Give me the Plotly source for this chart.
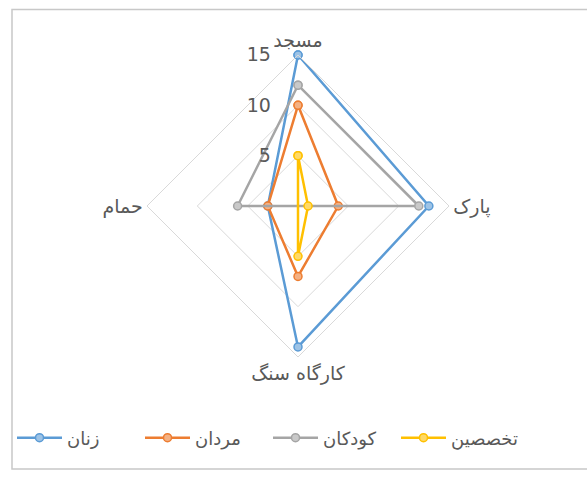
import plotly.graph_objects as go

categories = ["مسجد", "پارک", "کارگاه سنگ", "حمام"]
series_names = ["زنان", "مردان", "کودکان", "تخصصین"]
women = [15, 13, 14, 3]
men = [10, 4, 7, 3]
children = [12, 12, 0, 6]
specialists = [5, 1, 5, 0]
tick_vals = [5, 10, 15]

values = [women, men, children, specialists]
colors = ["#5B9BD5", "#ED7D31", "#A5A5A5", "#FFC000"]
fills = ["#9DC3E6", "#F4B183", "#C9C9C9", "#FFD966"]

FONT = "DejaVu Sans"
W, H = 587, 479
cx, cy, R = 298, 206, 151

fig = go.Figure()
for name, vals, c, fc in zip(series_names, values, colors, fills):
    fig.add_trace(go.Scatterpolar(
        r=vals + vals[:1],
        theta=categories + categories[:1],
        mode="lines+markers",
        name=name,
        line=dict(color=c, width=2.5),
        marker=dict(symbol="circle", size=8, color=fc, line=dict(color=c, width=1.5)),
    ))

fig.update_layout(
    width=W, height=H,
    margin=dict(l=0, r=0, t=0, b=0),
    paper_bgcolor="white",
    font=dict(family=FONT, color="#595959"),
    polar=dict(
        domain=dict(x=[(cx - R) / W, (cx + R) / W], y=[(H - cy - R) / H, (H - cy + R) / H]),
        bgcolor="white",
        gridshape="linear",
        angularaxis=dict(
            rotation=90, direction="clockwise",
            showgrid=False, showline=True, linecolor="#D9D9D9", linewidth=1,
            ticks="", tickfont=dict(size=19, color="#595959", family=FONT),
        ),
        radialaxis=dict(
            range=[0, 15], angle=90, tickangle=90, side="counterclockwise",
            tickvals=tick_vals, ticks="outside", ticklen=20, tickcolor="rgba(0,0,0,0)",
            showline=False,
            gridcolor="#D9D9D9", gridwidth=1,
            tickfont=dict(size=19, color="#595959", family=FONT),
        ),
    ),
    showlegend=True,
    legend=dict(
        orientation="h", x=12 / W, xanchor="left", y=1 - 438 / H, yanchor="middle",
        itemwidth=45, font=dict(size=18, color="#595959", family=FONT),
        entrywidth=68, entrywidthmode="pixels",
        bgcolor="rgba(0,0,0,0)",
    ),
    shapes=[dict(type="rect", xref="paper", yref="paper",
                 x0=12 / W, x1=1.02, y0=1 - 469 / H, y1=1 - 9.5 / H,
                 line=dict(color="#C8C8C8", width=1.5), fillcolor="rgba(0,0,0,0)", layer="below")],
)

fig.write_html("out.html", config={"displayModeBar": False},
               post_script="document.body.style.margin='0';document.body.style.overflow='hidden';")
